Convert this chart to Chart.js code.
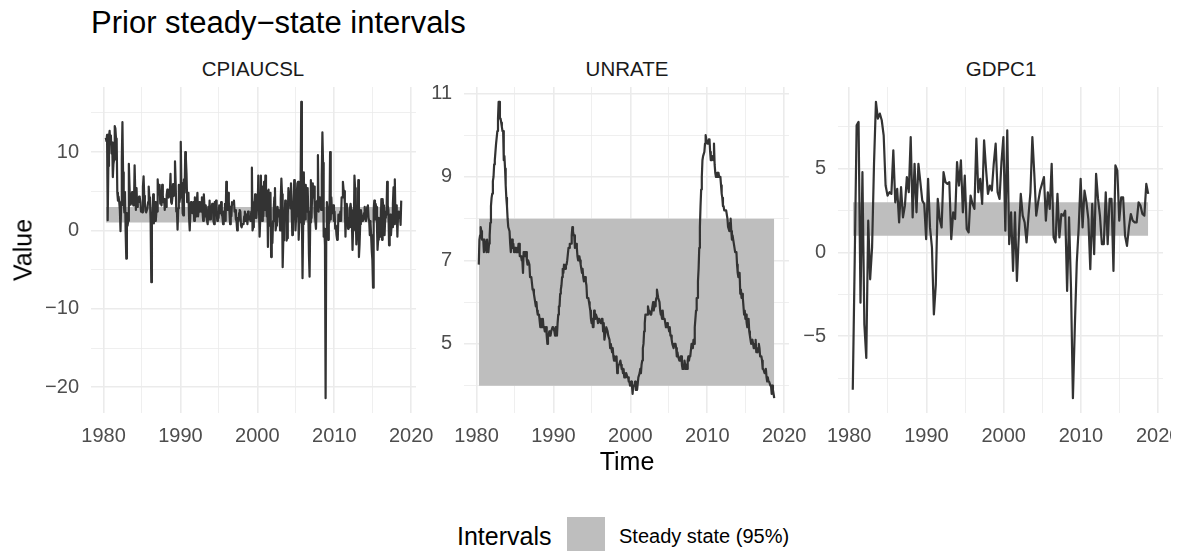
<!DOCTYPE html>
<html>
<head>
<meta charset="utf-8">
<script src="https://cdn.jsdelivr.net/npm/chart.js@4.4.1/dist/chart.umd.min.js"></script>
<style>
  body { margin: 0; background: #fff; width: 1186px; height: 551px; position: relative; overflow: hidden;
         font-family: "Liberation Sans", Arial, sans-serif; }
  .txt { position: absolute; white-space: nowrap; line-height: 1; }
  .strip { font-size: 20.5px; color: #1A1A1A; transform: translateX(-50%); }
  .panel { position: absolute; top: 63px; height: 395px; overflow: hidden; }
  .panel canvas { position: absolute; left: 0; top: 0; }
</style>
</head>
<body>

<div class="txt" style="left:91px; top:7px; font-size:31px; color:#000;">Prior steady−state intervals</div>

<div class="txt strip" style="left:253px; top:59px;">CPIAUCSL</div>
<div class="txt strip" style="left:627px; top:59px;">UNRATE</div>
<div class="txt strip" style="left:1001px; top:59px;">GDPC1</div>

<div class="panel" style="left:0px; width:446px;"><canvas id="p1" width="446" height="395"></canvas></div>
<div class="panel" style="left:373px; width:446px;"><canvas id="p2" width="446" height="395"></canvas></div>
<!-- the last panel is cut at the plot edge, like the reference -->
<div class="panel" style="left:747px; width:424px;"><canvas id="p3" width="446" height="395"></canvas></div>

<div class="txt" style="left:627px; top:449px; font-size:25px; transform:translateX(-50%);">Time</div>
<div class="txt" style="left:23px; top:250px; font-size:25px; transform:translate(-50%,-50%) rotate(-90deg);">Value</div>

<div class="txt" style="left:457px; top:524px; font-size:25px;">Intervals</div>
<div style="position:absolute; left:567px; top:517px; width:38px; height:38px; background:#BEBEBE;"></div>
<div class="txt" style="left:619px; top:526px; font-size:20px; color:#000;">Steady state (95%)</div>

<script>
// monthly series start in April 1980, quarterly series start in 1980Q2
const panelNames = ['CPIAUCSL', 'UNRATE', 'GDPC1'];

// CPIAUCSL, annualised monthly inflation, Apr 1980 - Sep 2018
const cpiValues = [
  11.8, 11.4, 12.2, 1.3, 8.2, 12.0, 12.7, 11.0, 12.1,
  9.8, 11.2, 6.8, 8.5, 9.0, 13.3, 13.0, 11.7, 11.5, 4.8, 3.8, 4.3,
  3.6, 2.6, -0.1, 3.2, 9.0, 13.8, 7.4, 3.4, 2.3, 4.9, -0.2, -3.6,
  2.2, 0.6, 1.2, 8.5, 5.8, 3.3, 4.4, 3.8, 4.9, 3.6, 3.2, 3.3,
  8.3, 5.0, 2.6, 5.4, 3.0, 3.6, 3.6, 4.3, 4.2, 3.6, 2.4, 2.5,
  2.3, 5.6, 6.9, 4.4, 3.5, 2.5, 2.3, 2.3, 2.8, 3.6, 5.6, 4.2,
  3.8, 1.0, -6.6, 1.2, 2.3, 4.6, 0.9, 2.0, 3.6, 1.2, 2.4, 2.4,
  6.5, 4.8, 4.6, 5.8, 3.4, 4.3, 3.2, 5.8, 4.4, 3.6, 4.0, 2.6,
  3.5, 3.0, 4.5, 5.2, 4.3, 4.2, 4.4, 4.8, 7.2, 3.6, 3.4, 4.2,
  5.9, 4.4, 5.8, 8.8, 6.2, 2.4, 2.6, 0.1, 2.8, 5.8, 3.6, 4.2,
  11.3, 5.6, 6.0, 2.2, 1.9, 6.5, 4.8, 10.0, 9.2, 7.2, 3.6, 3.6,
  4.8, 1.6, 0.0, 2.4, 3.6, 2.4, 2.2, 2.8, 3.6, 1.2, 4.2, 3.0,
  1.8, 3.6, 4.8, 1.8, 1.8, 3.6, 2.4, 2.7, 2.4, 4.2, 2.4, 1.2,
  4.6, 3.0, 1.8, 3.2, 1.8, 1.2, 0.8, 3.0, 1.4, 3.8, 1.4, 2.2,
  2.6, 3.4, 3.2, 1.2, 0.8, 3.6, 3.2, 3.8, 2.4, 1.2, 2.4, 1.6,
  3.2, 3.2, 2.2, 3.6, 2.0, 1.8, 0.8, 2.4, 2.2, 3.4, 1.2, 6.2,
  2.6, 2.6, 4.8, 3.6, 2.4, 0.8, 3.0, 1.8, 3.6, 3.6, 3.4, 3.8,
  2.4, 2.6, 1.4, 1.2, 0.0, 1.6, 1.2, 2.2, 2.6, 2.4, 0.6, 0.4,
  0.8, 0.8, 0.8, 1.8, 2.4, 1.2, 2.0, 1.6, 0.8, 2.4, 1.4, 1.6,
  1.8, 1.2, 2.4, 8.0, 0.0, 0.4, 3.6, 2.8, 4.6, 1.6, 1.6, 3.0,
  2.8, 7.0, 7.0, -0.8, 1.4, 7.0, 3.0, 1.2, 5.6, 1.8, 6.2, 2.6,
  7.0, 4.6, 1.8, 5.0, -2.1, 5.2, 1.4, 0.6, 4.8, -3.4, -1.2, -1.6,
  1.2, 2.6, 4.2, 5.4, 0.0, 0.6, 1.4, 3.0, 1.8, 2.6, 1.8, 0.0,
  4.0, 6.6, 4.6, -4.7, -1.3, 1.8, 1.6, 3.8, 3.4, -1.3, -1.0, 1.8,
  5.4, 4.6, 4.4, 2.8, 6.0, 3.4, -0.6, 1.2, 2.4, 6.4, 3.0, 0.0,
  1.8, 4.6, 6.0, 6.2, -1.2, 1.0, 5.2, 6.0, 16.4, 2.0, -6.1, 0.8,
  7.4, 1.4, 1.4, 5.8, 4.6, 2.4, 5.4, 2.4, -3.0, -5.9, 1.0, 6.4,
  1.6, 4.6, 6.0, 4.2, 5.6, 2.4, 1.2, 0.2, 3.6, 3.8, 9.6, 2.4,
  4.2, 3.0, 3.8, 2.6, 7.0, 12.5, 8.6, -0.8, 0.2, -1.9, -21.4, -1.0,
  3.6, 2.8, -1.2, 0.8, 1.2, 10.0, 1.4, 4.2, 2.2, 2.8, 3.2, 1.2,
  2.4, 0.2, 0.6, -0.6, -1.2, -1.0, 2.0, 1.8, 1.2, 2.4, 1.2, 4.2,
  4.2, 6.2, 5.2, 5.0, 3.4, -0.8, 2.4, 3.4, 2.6, 0.2, 1.6, 0.4,
  2.8, 3.4, 2.6, 1.2, -2.5, 0.4, 0.0, 7.0, 5.4, 1.8, -1.8, 0.0,
  0.6, 6.4, -3.4, -1.8, 0.8, 2.6, 2.0, 1.4, 1.2, 1.4, 2.2, 3.0,
  1.6, 1.2, 2.4, 3.0, 3.2, 1.6, 1.2, -0.6, 1.2, -0.6, -2.6, -3.8,
  -7.3, 2.6, 3.8, 1.4, 3.4, 3.0, 1.2, -2.5, -1.2, 1.6, 0.8, -0.8,
  0.6, 4.0, -1.2, 4.0, 2.8, 3.2, -0.6, 1.6, 2.4, 2.0, 6.2, 3.2,
  2.6, -1.9, 1.0, 2.0, -0.6, 0.8, 0.4, 3.4, 5.5, 0.8, 6.5, 1.6,
  3.2, 2.4, -0.8, 2.0, 2.4, 1.6, 2.4, 0.7, 3.8
];

// UNRATE, Apr 1980 - Sep 2018
const unrateValues = [
  6.9, 7.5, 7.6, 7.8, 7.7, 7.5, 7.5, 7.5, 7.2,
  7.5, 7.4, 7.4, 7.2, 7.5, 7.5, 7.2, 7.4, 7.6, 7.9, 8.3, 8.5,
  8.6, 8.9, 9.0, 9.3, 9.4, 9.6, 9.8, 9.8, 10.1, 10.4, 10.8, 10.8,
  10.4, 10.4, 10.3, 10.2, 10.1, 10.1, 9.4, 9.5, 9.2, 8.8, 8.5, 8.3,
  8.0, 7.8, 7.8, 7.7, 7.4, 7.2, 7.5, 7.5, 7.3, 7.4, 7.2, 7.3,
  7.3, 7.2, 7.2, 7.3, 7.2, 7.4, 7.4, 7.1, 7.1, 7.1, 7.0, 7.0,
  6.7, 7.2, 7.2, 7.1, 7.2, 7.2, 7.0, 6.9, 7.0, 7.0, 6.9, 6.6,
  6.6, 6.6, 6.6, 6.3, 6.3, 6.2, 6.1, 6.0, 5.9, 6.0, 5.8, 5.7,
  5.7, 5.7, 5.7, 5.4, 5.6, 5.4, 5.4, 5.6, 5.4, 5.4, 5.3, 5.3,
  5.4, 5.2, 5.0, 5.2, 5.2, 5.3, 5.2, 5.2, 5.3, 5.3, 5.4, 5.4,
  5.4, 5.3, 5.2, 5.4, 5.4, 5.2, 5.5, 5.7, 5.9, 5.9, 6.2, 6.3,
  6.4, 6.6, 6.8, 6.7, 6.9, 6.9, 6.8, 6.9, 6.9, 7.0, 7.0, 7.3,
  7.3, 7.4, 7.4, 7.4, 7.6, 7.8, 7.7, 7.6, 7.6, 7.3, 7.4, 7.4,
  7.3, 7.1, 7.0, 7.1, 7.1, 7.0, 6.9, 6.8, 6.7, 6.8, 6.6, 6.5,
  6.6, 6.6, 6.5, 6.4, 6.1, 6.1, 6.1, 6.0, 5.9, 5.8, 5.6, 5.5,
  5.6, 5.4, 5.4, 5.8, 5.6, 5.6, 5.7, 5.7, 5.6, 5.5, 5.6, 5.6,
  5.6, 5.5, 5.5, 5.6, 5.6, 5.3, 5.5, 5.1, 5.2, 5.2, 5.4, 5.4,
  5.3, 5.2, 5.2, 5.1, 4.9, 5.0, 4.9, 4.8, 4.9, 4.7, 4.6, 4.7,
  4.6, 4.6, 4.7, 4.3, 4.4, 4.5, 4.5, 4.5, 4.6, 4.5, 4.4, 4.4,
  4.3, 4.4, 4.2, 4.3, 4.2, 4.3, 4.3, 4.2, 4.2, 4.1, 4.1, 4.0,
  4.0, 4.1, 4.0, 3.8, 4.0, 4.0, 4.0, 4.1, 3.9, 3.9, 3.9, 3.9,
  4.2, 4.2, 4.3, 4.4, 4.3, 4.5, 4.6, 4.9, 5.0, 5.3, 5.5, 5.7,
  5.7, 5.7, 5.7, 5.9, 5.8, 5.8, 5.8, 5.7, 5.7, 5.7, 5.9, 6.0,
  5.8, 5.9, 5.9, 6.0, 6.1, 6.3, 6.2, 6.1, 6.1, 6.0, 5.8, 5.7,
  5.7, 5.6, 5.8, 5.6, 5.6, 5.6, 5.5, 5.4, 5.4, 5.5, 5.4, 5.4,
  5.3, 5.4, 5.2, 5.2, 5.1, 5.0, 5.0, 4.9, 5.0, 5.0, 5.0, 4.9,
  4.7, 4.8, 4.7, 4.7, 4.6, 4.6, 4.7, 4.7, 4.5, 4.4, 4.5, 4.4,
  4.6, 4.5, 4.4, 4.5, 4.4, 4.6, 4.7, 4.6, 4.7, 4.7, 4.7, 5.0,
  5.0, 4.9, 5.1, 5.0, 5.4, 5.6, 5.8, 6.1, 6.1, 6.5, 6.8, 7.3,
  7.8, 8.3, 8.7, 9.0, 9.4, 9.5, 9.5, 9.6, 9.8, 10.0, 9.9, 9.9,
  9.8, 9.8, 9.9, 9.9, 9.6, 9.4, 9.4, 9.5, 9.5, 9.4, 9.8, 9.3,
  9.1, 9.0, 9.0, 9.1, 9.0, 9.1, 9.0, 9.0, 9.0, 8.8, 8.6, 8.5,
  8.3, 8.3, 8.2, 8.2, 8.2, 8.2, 8.2, 8.0, 7.8, 7.8, 7.7, 7.9,
  8.0, 7.7, 7.5, 7.6, 7.5, 7.5, 7.3, 7.2, 7.2, 7.2, 6.9, 6.7,
  6.6, 6.7, 6.7, 6.2, 6.3, 6.1, 6.2, 6.1, 5.9, 5.7, 5.8, 5.6,
  5.7, 5.5, 5.4, 5.4, 5.6, 5.3, 5.2, 5.1, 5.0, 5.0, 5.1, 5.0,
  4.9, 4.9, 5.0, 5.1, 4.8, 4.9, 4.8, 4.9, 5.0, 4.9, 4.7, 4.7,
  4.7, 4.6, 4.4, 4.4, 4.4, 4.3, 4.3, 4.4, 4.2, 4.1, 4.2, 4.1,
  4.1, 4.1, 4.0, 4.0, 3.8, 4.0, 3.9, 3.8, 3.7
];

// GDPC1, annualised quarterly growth, 1980Q2 - 2018Q3
const gdpValues = [
  -8.2, -0.5, 7.6,
  7.8, -3.0, 4.8, -4.3,
  -6.3, 1.9, -1.6, 0.3,
  5.3, 9.0, 8.0, 8.3,
  7.9, 7.0, 4.0, 3.4,
  3.6, 3.5, 6.1, 3.0,
  3.8, 1.8, 3.9, 2.1,
  2.8, 4.5, 3.6, 6.9,
  2.1, 5.3, 2.4, 5.3,
  4.2, 3.1, 2.9, 0.8,
  4.4, 1.5, 0.3, -3.7,
  -1.9, 3.2, 2.0, 1.5,
  4.8, 4.2, 4.1, 4.2,
  0.8, 2.4, 2.0, 5.4,
  4.0, 5.5, 2.4, 4.6,
  1.4, 1.2, 3.4, 2.9,
  2.6, 6.8, 3.6, 4.4,
  2.9, 6.7, 5.0, 3.5,
  4.0, 3.7, 5.3, 6.5,
  3.6, 3.2, 5.4, 6.9,
  1.3, 7.3, 0.5, 2.4,
  -1.1, 2.4, -1.7, 1.1,
  3.5, 2.2, 1.8, 0.6,
  2.2, 3.6, 6.9, 4.7,
  2.2, 3.0, 3.7, 4.1,
  4.5, 1.9, 3.6, 2.6,
  5.3, 0.9, 0.6, 3.5,
  0.9, 2.3, 2.2, 2.5,
  -2.3, 2.1, -2.1, -8.7,
  -4.4, -0.6, 1.5, 4.4,
  1.5, 3.7, 3.0, 2.0,
  -1.0, 2.9, -0.1, 4.7,
  3.2, 2.2, 0.5, 0.5,
  3.6, 0.5, 3.2, 3.2,
  -1.1, 5.2, 4.9, 1.9,
  3.3, 3.3, 1.0, 0.4,
  1.5, 2.3, 1.9, 1.8,
  1.8, 3.0, 2.8, 2.3,
  2.2, 4.1, 3.5
];

// prior steady-state 95% intervals [low, high]
const cpiBand = [1, 3];
const unrateBand = [4, 8];
const gdpBand = [1, 3];

// axis breaks: labelled (major) and unlabelled (minor)
const xMajor = [1980, 1990, 2000, 2010, 2020];
const xMinor = [1985, 1995, 2005, 2015];
const cpiMajor = [-20, -10, 0, 10];
const cpiMinor = [-15, -5, 5, 15];
const unrateMajor = [5, 7, 9, 11];
const unrateMinor = [4, 6, 8, 10];
const gdpMajor = [-5, 0, 5];
const gdpMinor = [-7.5, -2.5, 2.5, 7.5];

Chart.defaults.font.family = '"Liberation Sans", Arial, sans-serif';

function monthX(i) { return 1980 + (3 + i + 0.5) / 12; }      // Apr 1980 = index 0
function quarterX(i) { return 1980 + (5 + 3 * i + 0.5) / 12; } // 1980Q2 (June) = index 0

function fmt(v) {
  return v < 0 ? '\u2212' + Math.abs(v) : String(v);
}

function makePanel(id, values, xOf, band, yMajor, yMinor) {
  var pts = values.map((v, i) => ({ x: xOf(i), y: v }));
  var x0 = pts[0].x, x1 = pts[pts.length - 1].x;
  var xPad = (x1 - x0) * 0.05;
  var all = values.concat(band);
  var lo = Math.min.apply(null, all), hi = Math.max.apply(null, all);
  var yPad = (hi - lo) * 0.05;

  var xTicks = xMajor.concat(xMinor).sort((a, b) => a - b);
  var yTicks = yMajor.concat(yMinor).sort((a, b) => a - b);

  new Chart(document.getElementById(id), {
    type: 'line',
    data: {
      datasets: [
        {
          data: pts, borderColor: '#333333', borderWidth: 2.2, pointRadius: 0,
          tension: 0, fill: false, order: 0, borderJoinStyle: 'round'
        },
        {
          data: [{ x: x0, y: band[1] }, { x: x1, y: band[1] }],
          borderWidth: 0, pointRadius: 0, fill: '+1', backgroundColor: '#BEBEBE', order: 1
        },
        {
          data: [{ x: x0, y: band[0] }, { x: x1, y: band[0] }],
          borderWidth: 0, pointRadius: 0, fill: false, order: 2
        }
      ]
    },
    options: {
      responsive: false,
      animation: false,
      events: [],
      devicePixelRatio: 1,
      // the y axis reserves 24px above the plot area, the last x label ~29px on the right
      layout: { padding: { top: 0, right: 30, bottom: 0, left: 0 } },
      plugins: { legend: { display: false }, tooltip: { enabled: false }, title: { display: false } },
      scales: {
        x: {
          type: 'linear', min: x0 - xPad, max: x1 + xPad,
          border: { display: false },
          grid: {
            color: '#EBEBEB', drawTicks: false,
            lineWidth: c => (c.tick && xMajor.includes(c.tick.value)) ? 1.6 : 0.8
          },
          afterBuildTicks: s => { s.ticks = xTicks.filter(v => v >= s.min && v <= s.max).map(v => ({ value: v })); },
          afterFit: s => { s.height = 45; },
          ticks: {
            autoSkip: false, maxRotation: 0, padding: 11, color: '#4D4D4D', font: { size: 20 },
            callback: v => xMajor.includes(v) ? String(v) : ''
          }
        },
        y: {
          type: 'linear', min: lo - yPad, max: hi + yPad,
          border: { display: false },
          grid: {
            color: '#EBEBEB', drawTicks: false,
            lineWidth: c => (c.tick && yMajor.includes(c.tick.value)) ? 1.6 : 0.8
          },
          afterBuildTicks: s => { s.ticks = yTicks.filter(v => v >= s.min && v <= s.max).map(v => ({ value: v })); },
          afterFit: s => { s.width = 91; },
          ticks: {
            autoSkip: false, padding: 12, color: '#4D4D4D', font: { size: 20 },
            callback: v => yMajor.includes(v) ? fmt(v) : ''
          }
        }
      }
    }
  });
}

makePanel('p1', cpiValues, monthX, cpiBand, cpiMajor, cpiMinor);
makePanel('p2', unrateValues, monthX, unrateBand, unrateMajor, unrateMinor);
makePanel('p3', gdpValues, quarterX, gdpBand, gdpMajor, gdpMinor);
</script>
</body>
</html>
